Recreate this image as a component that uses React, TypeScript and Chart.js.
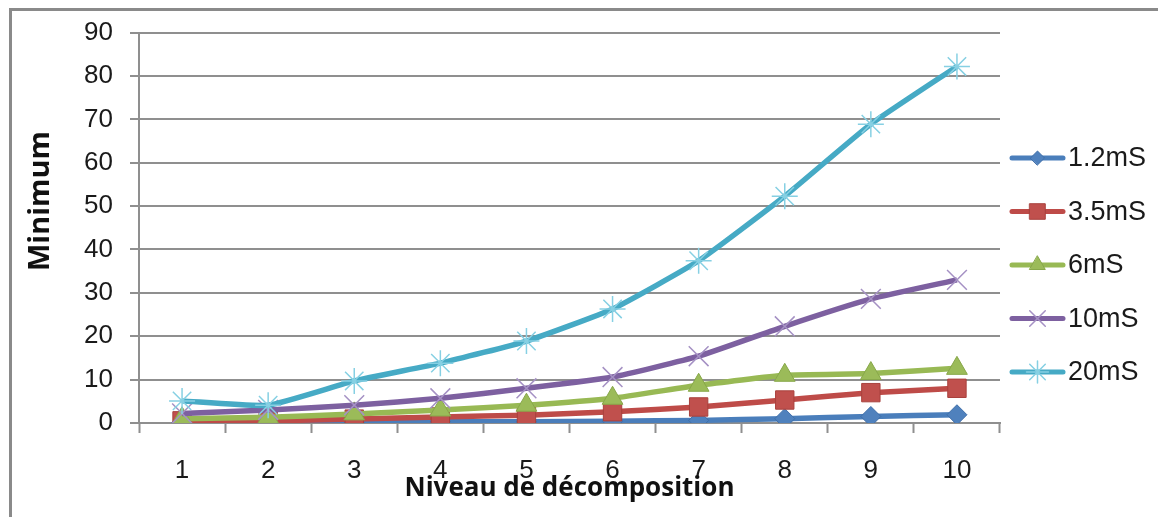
import React, { useEffect, useRef } from "react";
import { Chart, registerables } from "chart.js";
import { drawPoint } from "chart.js/helpers";

Chart.register(...registerables);

const categories = ["1", "2", "3", "4", "5", "6", "7", "8", "9", "10"];
const seriesNames = ["1.2mS", "3.5mS", "6mS", "10mS", "20mS"];
const s1_2 = [0.1, 0.1, 0.2, 0.3, 0.3, 0.4, 0.6, 1.0, 1.5, 1.9];
const s3_5 = [0.5, 0.5, 0.9, 1.4, 1.8, 2.6, 3.7, 5.3, 7.0, 8.0];
const s6 = [1.0, 1.3, 2.1, 3.0, 4.1, 5.7, 8.7, 11.0, 11.4, 12.6];
const s10 = [2.2, 3.0, 4.1, 5.7, 8.0, 10.6, 15.4, 22.3, 28.6, 33.0];
const s20 = [5.1, 4.1, 9.7, 13.8, 18.9, 26.3, 37.4, 52.3, 68.9, 82.2];
const yTicksMin = 0;
const yTicksMax = 90;
const yStep = 10;
const xTitle = "Niveau de décomposition";
const yTitle = "Minimum";

const TICK_FONT = '"Liberation Sans Narrow", "Liberation Sans", sans-serif';
const TITLE_FONT = '"Open Sans", "DejaVu Sans", sans-serif';
const GRID = "#8f8f8f";

const styles = [
  { line: "#4a7ebb", fill: "#4f81bd", border: "#3f6ea8", style: "rectRot", r: 10, bw: 1, lr: 7 },
  { line: "#be4b48", fill: "#c0504d", border: "#a8403d", style: "rect", r: 13, bw: 1, lr: 11 },
  { line: "#98b954", fill: "#9bbb59", border: "#88a84a", style: "triangle", r: 12, bw: 1, lr: 9 },
  { line: "#7d60a0", fill: "rgba(0,0,0,0)", border: "#a591c4", style: "crossRot", r: 14, bw: 1.5, lr: 11 },
  { line: "#46aac5", fill: "rgba(0,0,0,0)", border: "#86d0e3", style: "star", r: 13, bw: 1.5, lr: 11 },
];

const seriesValues = [s1_2, s3_5, s6, s10, s20];

const decorPlugin = {
  id: "decor",
  beforeDraw(chart: any) {
    const ctx = chart.ctx;
    ctx.save();
    ctx.fillStyle = "#ffffff";
    ctx.fillRect(0, 0, chart.width, chart.height);
    ctx.strokeStyle = "#8a8a8a";
    ctx.lineWidth = 3;
    ctx.beginPath();
    ctx.moveTo(10.5, chart.height + 5);
    ctx.lineTo(10.5, 9.5);
    ctx.lineTo(chart.width + 5, 9.5);
    ctx.stroke();
    ctx.restore();
  },
  afterDraw(chart: any) {
    const ctx = chart.ctx;
    const area = chart.chartArea;
    ctx.save();
    // axis titles
    ctx.fillStyle = "#111";
    ctx.font = "bold 26px " + TITLE_FONT;
    ctx.textAlign = "center";
    ctx.textBaseline = "alphabetic";
    ctx.fillText(xTitle, (area.left + area.right) / 2, 496);
    ctx.save();
    ctx.translate(49, 201);
    ctx.rotate(-Math.PI / 2);
    ctx.font = "bold 29px " + TITLE_FONT;
    ctx.fillText(yTitle, 0, 0);
    ctx.restore();
    // legend
    const lx0 = area.right + 10;
    const lx1 = lx0 + 55;
    chart.data.datasets.forEach((ds: any, i: number) => {
      const st = styles[i];
      const y = 158 + i * 53.5;
      ctx.strokeStyle = ds.borderColor;
      ctx.lineWidth = 5;
      ctx.lineCap = "round";
      ctx.beginPath();
      ctx.moveTo(lx0 + 2, y);
      ctx.lineTo(lx1 - 2, y);
      ctx.stroke();
      ctx.fillStyle = st.fill;
      ctx.strokeStyle = st.border;
      ctx.lineWidth = st.bw;
      drawPoint(ctx, { pointStyle: st.style, radius: st.lr, rotation: 0, borderWidth: st.bw } as any, (lx0 + lx1) / 2, y);
      ctx.fillStyle = "#1a1a1a";
      ctx.font = "27px " + TICK_FONT;
      ctx.textAlign = "left";
      ctx.textBaseline = "middle";
      ctx.fillText(ds.label, lx1 + 3, y + 1);
    });
    ctx.restore();
  },
};

export default function App() {
  const ref = useRef<HTMLCanvasElement | null>(null);
  useEffect(() => {
    if (!ref.current) return;
    const datasets = seriesValues.map((vals, i) => {
      const st = styles[i];
      return {
        label: seriesNames[i],
        data: vals,
        borderColor: st.line,
        backgroundColor: st.fill,
        borderWidth: 5.5,
        pointStyle: st.style,
        pointRadius: st.r,
        pointBackgroundColor: st.fill,
        pointBorderColor: st.border,
        pointBorderWidth: st.bw,
        tension: 0.15,
        order: seriesValues.length - i,
      };
    });
    const chart = new Chart(ref.current, {
      type: "line",
      data: { labels: categories, datasets },
      options: {
        animation: false,
        responsive: false,
        events: [],
        layout: { padding: { left: 0, top: 31, right: 158, bottom: 0 } },
        plugins: { legend: { display: false }, tooltip: { enabled: false }, title: { display: false } },
        scales: {
          x: {
            type: "category",
            offset: true,
            afterFit(scale: any) {
              scale.height = 94;
            },
            grid: {
              offset: true,
              drawOnChartArea: false,
              drawTicks: true,
              tickLength: 10,
              tickColor: GRID,
              tickWidth: 2,
            },
            border: { display: true, color: GRID, width: 2 },
            ticks: {
              color: "#1a1a1a",
              font: { family: TICK_FONT, size: 26 },
              padding: 22,
              maxRotation: 0,
            },
          },
          y: {
            min: yTicksMin,
            max: yTicksMax,
            afterFit(scale: any) {
              scale.width = 139;
            },
            grid: {
              color: GRID,
              lineWidth: 2,
              drawTicks: true,
              tickLength: 9,
              tickColor: GRID,
            },
            border: { display: true, color: GRID, width: 2 },
            ticks: {
              stepSize: yStep,
              color: "#1a1a1a",
              font: { family: TICK_FONT, size: 26 },
              padding: 17,
            },
          },
        },
      },
      plugins: [decorPlugin],
    } as any);
    return () => chart.destroy();
  }, []);
  return (
    <div style={{ position: "fixed", left: 0, top: 0, width: 1158, height: 517, background: "#fff" }}>
      <canvas ref={ref} width={1158} height={517} style={{ display: "block", width: 1158, height: 517 }} />
    </div>
  );
}
